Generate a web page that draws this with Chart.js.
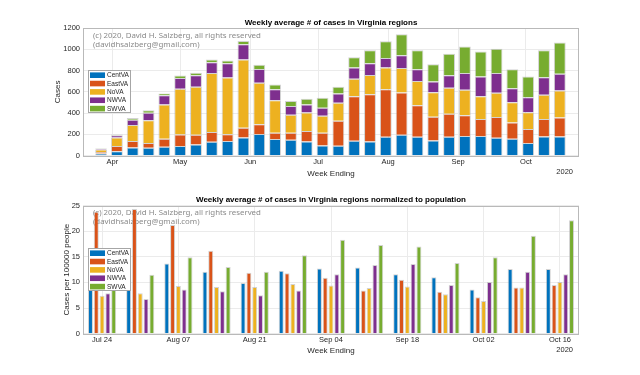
<!DOCTYPE html>
<html><head><meta charset="utf-8">
<script src="https://cdn.jsdelivr.net/npm/chart.js@4.4.0/dist/chart.umd.min.js"></script>
<style>
html,body{margin:0;padding:0;background:#fff;}
#wrap{position:relative;width:640px;height:375px;}
canvas{display:block;}
</style></head><body>
<div id="wrap">
<canvas id="topChart" width="640" height="187"></canvas>
<canvas id="botChart" width="640" height="188"></canvas>
</div>
<script>
// ---------- data ----------
const regions = ['CentVA', 'EastVA', 'NoVA', 'NWVA', 'SWVA'];
const regionColors = ['#0072BD', '#D95319', '#EDB120', '#7E2F8E', '#77AC30'];

const weekEnding = ['2020-03-27','2020-04-03','2020-04-10','2020-04-17','2020-04-24','2020-05-01','2020-05-08','2020-05-15','2020-05-22','2020-05-29',
  '2020-06-05','2020-06-12','2020-06-19','2020-06-26','2020-07-03','2020-07-10','2020-07-17','2020-07-24','2020-07-31','2020-08-07',
  '2020-08-14','2020-08-21','2020-08-28','2020-09-04','2020-09-11','2020-09-18','2020-09-25','2020-10-02','2020-10-09','2020-10-16'];
const centVA = [20, 41, 78, 75, 83, 91, 105, 131, 138, 172, 203, 156, 150, 134, 97, 94, 141, 134, 178, 197, 178, 144, 178, 184, 184, 169, 159, 119, 181, 181];
const eastVA = [14, 50, 60, 44, 76, 109, 92, 91, 64, 91, 92, 60, 66, 97, 119, 234, 418, 444, 447, 397, 297, 222, 216, 197, 160, 194, 154, 131, 163, 178];
const noVA   = [24, 81, 150, 215, 322, 430, 450, 556, 532, 640, 390, 306, 168, 175, 159, 169, 163, 181, 203, 231, 228, 231, 244, 238, 215, 228, 190, 159, 228, 254];
const nwVA   = [9, 19, 50, 70, 88, 100, 110, 100, 135, 145, 130, 103, 82, 75, 75, 87, 106, 110, 91, 119, 110, 100, 118, 159, 185, 187, 131, 141, 166, 156];
const swVA   = [4, 9, 16, 22, 15, 23, 22, 25, 25, 30, 40, 44, 47, 53, 94, 63, 97, 122, 156, 197, 178, 162, 203, 247, 234, 228, 179, 194, 253, 294];

const monthTickDates = ['2020-04-01','2020-05-01','2020-06-01','2020-07-01','2020-08-01','2020-09-01','2020-10-01'];
const monthTickLabels = ['Apr', 'May', 'Jun', 'Jul', 'Aug', 'Sep', 'Oct'];
const topYTicks = [0, 200, 400, 600, 800, 1000, 1200];

const normWeekLabels = ['Jul 24','Jul 31','Aug 07','Aug 14','Aug 21','Aug 28','Sep 04','Sep 11','Sep 18','Sep 25','Oct 02','Oct 09','Oct 16'];
const centVANorm = [9.3, 12.4, 13.7, 12.1, 9.9, 12.3, 12.7, 12.9, 11.6, 11.0, 8.6, 12.6, 12.6];
const eastVANorm = [23.8, 24.3, 21.2, 16.2, 11.9, 11.8, 10.9, 8.4, 10.5, 8.2, 7.1, 9.0, 9.5];
const noVANorm   = [7.4, 7.9, 9.3, 9.1, 9.1, 9.7, 9.4, 8.9, 9.2, 7.7, 6.4, 9.0, 10.1];
const nwVANorm   = [7.9, 6.75, 8.6, 8.3, 7.5, 8.4, 11.6, 13.4, 13.6, 9.5, 10.1, 12.1, 11.6];
const swVANorm   = [9.2, 11.5, 14.9, 13.0, 12.1, 15.3, 18.3, 17.3, 17.0, 13.8, 14.9, 19.1, 22.1];
const botYTicks = [0, 5, 10, 15, 20, 25];

const topTitle = 'Weekly average # of cases in Virginia regions';
const botTitle = 'Weekly average # of cases in Virginia regions normalized to population';
const xTitle = 'Week Ending';
const yearLabel = '2020';
const copyrightLines = ['(c) 2020, David H. Salzberg, all rights reserved', '(davidhsalzberg@gmail.com)'];

// ---------- helpers ----------
const FONT = '"Liberation Sans", Arial, Helvetica, sans-serif';
const TXT = '#262626';
const GRID = '#ebebeb';
function dayOfYear(s) {
  const [y, m, d] = s.split('-').map(Number);
  return (Date.UTC(y, m - 1, d) - Date.UTC(y, 0, 1)) / 864e5;
}
const weekDays = weekEnding.map(dayOfYear);
const monthDays = monthTickDates.map(dayOfYear);

function decorPlugin() {
  return {
    id: 'decor',
    beforeDatasetsDraw(chart) {
      const {ctx, chartArea: a} = chart;
      ctx.save();
      ctx.font = '10px "Noto Sans", sans-serif';
      const w = ctx.measureText(copyrightLines[0]).width;
      const fs = 10 * 168 / w;
      ctx.font = fs.toFixed(2) + 'px "Noto Sans", sans-serif';
      ctx.fillStyle = '#8a8a8a';
      ctx.textAlign = 'left';
      ctx.textBaseline = 'middle';
      ctx.fillText(copyrightLines[0], a.left + 10, a.top + 7.3);
      ctx.fillText(copyrightLines[1], a.left + 10, a.top + 16.3);
      ctx.restore();
    },
    afterDraw(chart) {
      const {ctx, chartArea: a} = chart;
      ctx.save();
      // axes box
      ctx.strokeStyle = '#b9b9b9';
      ctx.lineWidth = 1;
      ctx.strokeRect(Math.round(a.left) + 0.5, Math.round(a.top) + 0.5, Math.round(a.right - a.left) - 1, Math.round(a.bottom - a.top));
      // legend
      const lx = Math.round(a.left) + 5, ly = Math.round(a.top) + 42, lw = 43, lh = 43;
      ctx.fillStyle = '#ffffff';
      ctx.fillRect(lx, ly, lw, lh);
      ctx.strokeStyle = '#a6a6a6';
      ctx.strokeRect(lx + 0.5, ly + 0.5, lw - 1, lh - 1);
      ctx.font = '6.5px ' + FONT;
      ctx.textAlign = 'left';
      ctx.textBaseline = 'middle';
      chart.data.datasets.forEach((ds, i) => {
        const y = ly + 5.2 + i * 8.35;
        ctx.fillStyle = ds.backgroundColor;
        ctx.fillRect(lx + 2, y - 2.8, 15, 5.6);
        ctx.fillStyle = TXT;
        ctx.fillText(ds.label, lx + 19, y + 0.3);
      });
      // year label
      ctx.font = '7.5px ' + FONT;
      ctx.fillStyle = TXT;
      ctx.textAlign = 'right';
      ctx.fillText(yearLabel, a.right - 6, a.bottom + 16.5);
      ctx.restore();
    }
  };
}

function yScale(max, title, titleX, ticks) {
  return {
    min: 0, max: max,
    afterBuildTicks(s) { s.ticks = ticks.map(v => ({value: v})); },
    ticks: {callback: (v) => String(v), font: {family: FONT, size: 7.5}, color: TXT, padding: 3},
    grid: {color: GRID, drawTicks: false},
    border: {display: false},
    title: {display: true, text: title, color: TXT, font: {family: FONT, size: 8}, padding: {top: titleX - 4.8, bottom: 0}},
    afterFit(s) { s.width = 83; }
  };
}

// ---------- top chart ----------
const topSeries = [centVA, eastVA, noVA, nwVA, swVA];
new Chart(document.getElementById('topChart'), {
  type: 'bar',
  data: {
    datasets: regions.map((r, i) => ({
      label: r,
      data: topSeries[i].map((v, k) => ({x: weekDays[k], y: v})),
      backgroundColor: regionColors[i],
      borderColor: 'rgba(175,175,175,0.55)',
      borderWidth: 1,
      stack: 'all',
      categoryPercentage: 1.0,
      barPercentage: 0.75
    }))
  },
  options: {
    responsive: false,
    animation: false,
    devicePixelRatio: 1,
    layout: {padding: {left: 0, right: 61, top: 0, bottom: 0}},
    plugins: {
      legend: {display: false},
      tooltip: {enabled: false},
      title: {display: true, text: topTitle, fullSize: false, color: '#000', font: {family: FONT, size: 8, weight: 'bold'}, padding: {top: 17.7, bottom: 0.7}}
    },
    scales: {
      x: {
        type: 'linear',
        min: 78, max: 297.5,
        offset: false,
        afterBuildTicks(s) { s.ticks = monthDays.map(v => ({value: v})); },
        ticks: {callback: (v, i) => monthTickLabels[i], autoSkip: false, maxRotation: 0, font: {family: FONT, size: 7.5}, color: TXT, padding: 2},
        grid: {color: GRID, drawTicks: false, offset: false},
        border: {display: false},
        title: {display: true, text: xTitle, color: TXT, font: {family: FONT, size: 8}, padding: {top: 0, bottom: 8.9}},
        afterFit(s) { s.height = 31.3; }
      },
      y: Object.assign(yScale(1200, 'Cases', 58, topYTicks), {stacked: true})
    }
  },
  plugins: [decorPlugin()]
});

// ---------- bottom chart ----------
const botSeries = [centVANorm, eastVANorm, noVANorm, nwVANorm, swVANorm];
new Chart(document.getElementById('botChart'), {
  type: 'bar',
  data: {
    labels: normWeekLabels,
    datasets: regions.map((r, i) => ({
      label: r,
      data: botSeries[i],
      backgroundColor: regionColors[i],
      borderColor: 'rgba(175,175,175,0.55)',
      borderWidth: 1,
      categoryPercentage: 0.76,
      barPercentage: 0.86
    }))
  },
  options: {
    responsive: false,
    animation: false,
    devicePixelRatio: 1,
    layout: {padding: {left: 0, right: 61, top: 0, bottom: 0}},
    plugins: {
      legend: {display: false},
      tooltip: {enabled: false},
      title: {display: true, text: botTitle, fullSize: false, color: '#000', font: {family: FONT, size: 8, weight: 'bold'}, padding: {top: 8.2, bottom: 0.7}}
    },
    scales: {
      x: {
        type: 'category',
        offset: true,
        ticks: {callback: (v, i) => (i % 2 === 0 ? normWeekLabels[i] : ''), autoSkip: false, maxRotation: 0, font: {family: FONT, size: 7.5}, color: TXT, padding: 2},
        grid: {color: (c) => (c.index % 2 === 0 ? GRID : 'rgba(0,0,0,0)'), drawTicks: false, offset: false},
        border: {display: false},
        title: {display: true, text: xTitle, color: TXT, font: {family: FONT, size: 8}, padding: {top: 0, bottom: 19.5}},
        afterFit(s) { s.height = 41.3; }
      },
      y: yScale(25, 'Cases per 100000 people', 66.5, botYTicks)
    }
  },
  plugins: [decorPlugin()]
});
</script>
</body></html>
